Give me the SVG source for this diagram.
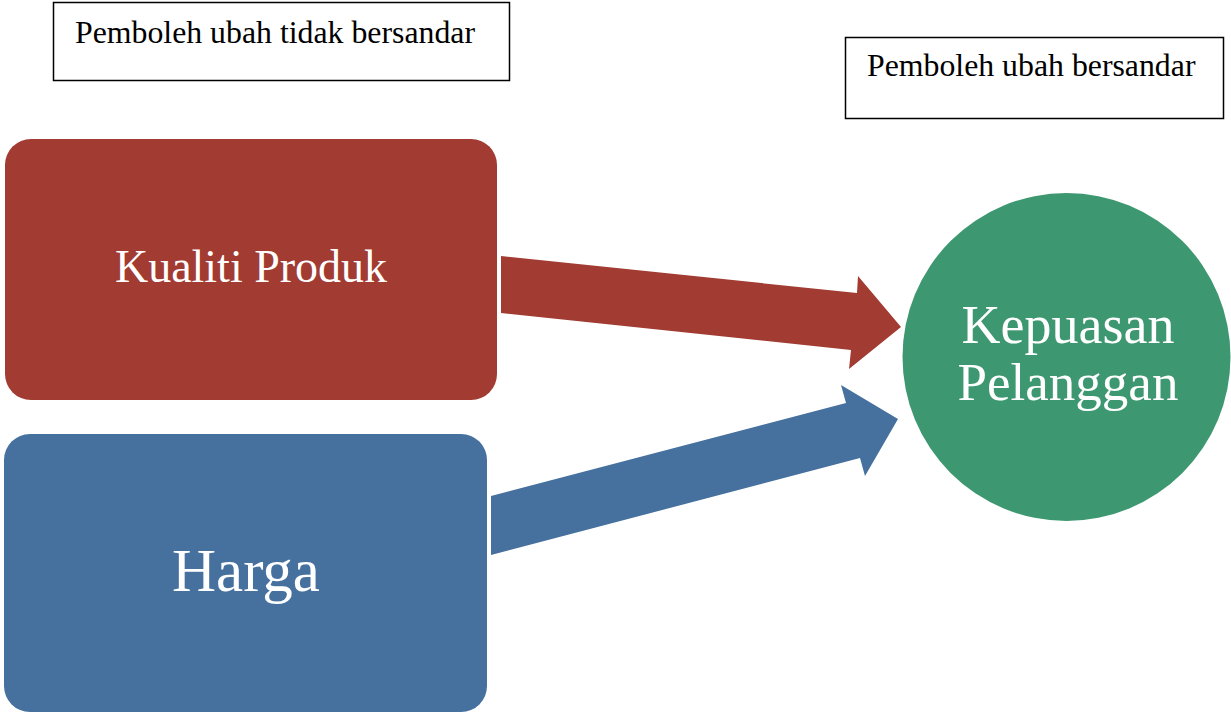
<svg xmlns="http://www.w3.org/2000/svg" width="1231" height="713" viewBox="0 0 1231 713">
<style>
.lbl{font-family:"Liberation Serif","Times New Roman",serif;fill:#000;font-size:31.8px}
.box{fill:#fff;stroke:#000;stroke-width:1.5}
.wt{font-family:"Liberation Serif","Times New Roman",serif;fill:#fff;text-anchor:middle}
</style>
<rect width="1231" height="713" fill="#fff"/>
<g id="label-independent">
<rect class="box" x="53.5" y="2.5" width="456" height="78"/>
<text class="lbl" x="75" y="43">Pemboleh ubah tidak bersandar</text>
</g>
<g id="label-dependent">
<rect class="box" x="845.5" y="37.5" width="378" height="81"/>
<text class="lbl" x="867" y="76">Pemboleh ubah bersandar</text>
</g>
<g id="connectors">
<polygon fill="#A23B32" points="501,256 857,293 858,276 901,327 849,369 851,350 501,313"/>
<polygon fill="#46709D" points="491,496 846,403 841,385 898,419 865,476 860,458 491,555"/>
</g>
<g id="node-kualiti">
<rect x="5" y="139" width="492" height="261" rx="26" fill="#A23B32"/>
<text class="wt" x="251" y="282" font-size="46">Kualiti Produk</text>
</g>
<g id="node-harga">
<rect x="4" y="434" width="483" height="278" rx="26" fill="#46709D"/>
<text class="wt" x="246" y="591" font-size="61">Harga</text>
</g>
<g id="node-kepuasan">
<circle cx="1066.5" cy="357" r="164" fill="#3D9770"/>
<text class="wt" x="1068" y="343" font-size="54">Kepuasan</text>
<text class="wt" x="1068" y="400" font-size="53">Pelanggan</text>
</g>
</svg>
